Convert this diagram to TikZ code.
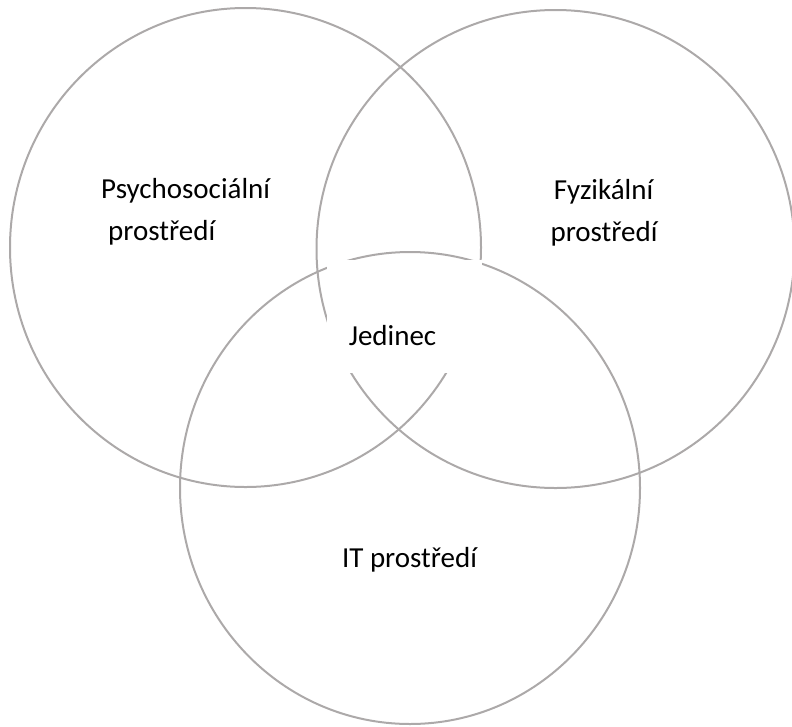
\documentclass[tikz,border=0pt]{standalone}
\usepackage{fontspec}
\setmainfont{Carlito}
\definecolor{ringgray}{RGB}{172,169,169}
\begin{document}
\begin{tikzpicture}[x=1pt,y=-1pt,
  ring/.style={draw=ringgray,line width=2pt},
  lbl/.style={inner sep=0pt,font=\fontsize{29}{35}\selectfont}]
\useasboundingbox (0,0) rectangle (792,726);
\draw[ring] (245.5,247.5) ellipse [x radius=235.5, y radius=239.5];
\draw[ring] (555.5,249) ellipse [x radius=239, y radius=239];
\draw[ring] (410,488) ellipse [x radius=230, y radius=236];
\fill[white] (327,260) rectangle (482,373);
\node[lbl,anchor=base west] (psy1) at (101,198) {Psychosociální};
\node[lbl,anchor=base west] (psy2) at (108,240) {prostředí};
\node[lbl,anchor=base] (fyz1) at (603.5,199) {Fyzikální};
\node[lbl,anchor=base] (fyz2) at (604,241.5) {prostředí};
\node[lbl,anchor=base] (jed) at (392.5,345) {Jedinec};
\node[lbl,anchor=base] (it) at (409.5,567) {IT prostředí};
\end{tikzpicture}
\end{document}
